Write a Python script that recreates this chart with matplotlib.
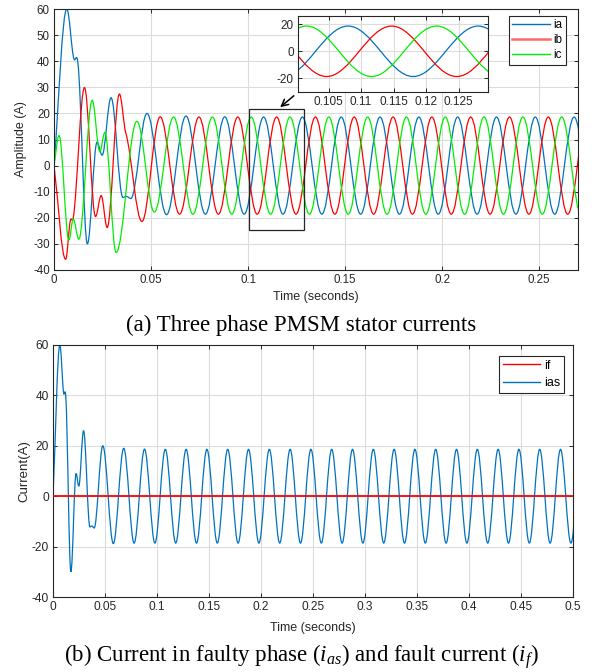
import numpy as np
import matplotlib
matplotlib.use('Agg')
import matplotlib.pyplot as plt
from matplotlib.path import Path
from matplotlib.patches import PathPatch, Rectangle, FancyArrowPatch
from matplotlib.lines import Line2D

plt.rcParams['axes.unicode_minus'] = False
plt.rcParams['mathtext.fontset'] = 'custom'
plt.rcParams['mathtext.rm'] = 'Liberation Serif'
plt.rcParams['mathtext.it'] = 'Liberation Serif:italic'

# turning points (time s, current A)
ia_t = [0.0, 0.0066, 0.0103, 0.0123, 0.0172, 0.0222, 0.0248, 0.0294, 0.0355, 0.0373, 0.0396, 0.0479,
        0.058, 0.068, 0.078, 0.088, 0.098, 0.108, 0.118, 0.128, 0.138, 0.148,
        0.158, 0.168, 0.178, 0.188, 0.198, 0.208, 0.218, 0.228, 0.238, 0.248,
        0.258, 0.268, 0.278, 0.288, 0.298, 0.308, 0.318, 0.328, 0.338, 0.348,
        0.358, 0.368, 0.378, 0.388, 0.398, 0.408, 0.418, 0.428, 0.438, 0.448,
        0.458, 0.468, 0.478, 0.488, 0.498, 0.508]
ia_v = [0.0, 60.0, 40.8, 39.5, -30.0, 9.0, 4.0, 26.0, -12.2, -11.8, -12.6, 20.0,
        -18.8, 19.0, -18.6, 18.7, -18.6, 18.6, -18.6, 18.6, -18.6, 18.6,
        -18.6, 18.6, -18.6, 18.6, -18.6, 18.6, -18.6, 18.6, -18.6, 18.6,
        -18.6, 18.6, -18.6, 18.6, -18.6, 18.6, -18.6, 18.6, -18.6, 18.6,
        -18.6, 18.6, -18.6, 18.6, -18.6, 18.6, -18.6, 18.6, -18.6, 18.6,
        -18.6, 18.6, -18.6, 18.6, -18.6, 18.6]

ib_t = [0.0, 0.006, 0.0085, 0.0099, 0.0157, 0.0214, 0.0243, 0.0274, 0.0337, 0.0370, 0.0453,
        0.0547, 0.0647, 0.0747, 0.0847, 0.0947, 0.1047, 0.1147, 0.1247, 0.1347, 0.1447,
        0.1547, 0.1647, 0.1747, 0.1847, 0.1947, 0.2047, 0.2147, 0.2247, 0.2347, 0.2447,
        0.2547, 0.2647, 0.2747, 0.2847]
ib_v = [0.0, -35.9, -20.8, -20.1, 29.9, -19.5, -11.5, -23.7, 27.4, 12.5, -21.4,
        18.7, -18.6, 18.6, -18.6, 18.6, -18.6, 18.6, -18.6, 18.6, -18.6,
        18.6, -18.6, 18.6, -18.6, 18.6, -18.6, 18.6, -18.6, 18.6, -18.6,
        18.6, -18.6, 18.6, -18.6]

ic_t = [0.0, 0.0026, 0.0077, 0.0099, 0.0128, 0.0197, 0.0236, 0.0262, 0.0320, 0.0427, 0.0517,
        0.0616, 0.0716, 0.0816, 0.0916, 0.1016, 0.1116, 0.1216, 0.1316, 0.1416, 0.1516,
        0.1616, 0.1716, 0.1816, 0.1916, 0.2016, 0.2116, 0.2216, 0.2316, 0.2416, 0.2516,
        0.2616, 0.2716, 0.2816]
ic_v = [0.0, 11.5, -28.5, -20.5, -28.2, 25.0, 5.3, 12.7, -33.3, 17.0, -17.8,
        18.6, -18.6, 18.6, -18.6, 18.6, -18.6, 18.6, -18.6, 18.6, -18.6,
        18.6, -18.6, 18.6, -18.6, 18.6, -18.6, 18.6, -18.6, 18.6, -18.6,
        18.6, -18.6, 18.6]

# faulty phase current is the same trace as ia, fault current stays at zero
ias_t = ia_t
ias_v = ia_v
if_t = [0.0, 0.5]
if_v = [0.0, 0.0]

top_xticks = [0, 0.05, 0.1, 0.15, 0.2, 0.25]
top_xlabels = ['0', '0.05', '0.1', '0.15', '0.2', '0.25']
top_yticks = [-40, -30, -20, -10, 0, 10, 20, 30, 40, 50, 60]
ins_xticks = [0.105, 0.11, 0.115, 0.12, 0.125]
ins_xlabels = ['0.105', '0.11', '0.115', '0.12', '0.125']
ins_yticks = [-20, 0, 20]
bot_xticks = [0, 0.05, 0.1, 0.15, 0.2, 0.25, 0.3, 0.35, 0.4, 0.45, 0.5]
bot_xlabels = ['0', '0.05', '0.1', '0.15', '0.2', '0.25', '0.3', '0.35', '0.4', '0.45', '0.5']
bot_yticks = [-40, -20, 0, 20, 40, 60]

BLUE = '#0072BD'
RED = '#FF0000'
GREEN = '#00EE00'
DARK = '#262626'
GRID = '#DCDCDC'


def curve(t, v, k=0.36):
    # smooth bezier path through the turning points, flat at peaks
    t = np.asarray(t, float)
    v = np.asarray(v, float)
    n = len(t)
    m = np.zeros(n)
    m[0] = (v[1] - v[0]) / (t[1] - t[0])
    for i in range(1, n - 1):
        if (v[i] - v[i-1]) * (v[i+1] - v[i]) > 0:
            m[i] = 0.6 * (v[i+1] - v[i-1]) / (t[i+1] - t[i-1])
    verts = [(t[0], v[0])]
    codes = [Path.MOVETO]
    for i in range(n - 1):
        dt = t[i+1] - t[i]
        verts += [(t[i] + k*dt, v[i] + k*dt*m[i]),
                  (t[i+1] - k*dt, v[i+1] - k*dt*m[i+1]),
                  (t[i+1], v[i+1])]
        codes += [Path.CURVE4] * 3
    return Path(verts, codes)


def draw(ax, t, v, color, lw=0.9):
    ax.add_patch(PathPatch(curve(t, v), fill=False, edgecolor=color, lw=lw))


def style(ax, fam, size):
    ax.grid(True, color=GRID, lw=0.8)
    ax.set_axisbelow(True)
    ax.tick_params(direction='in', length=3, width=0.7, top=True, right=True,
                   colors=DARK, labelsize=size, pad=3)
    for lab in ax.get_xticklabels() + ax.get_yticklabels():
        lab.set_family(fam)
    for s in ax.spines.values():
        s.set_color(DARK)
        s.set_linewidth(0.8)


fig = plt.figure(figsize=(6.02, 6.72), dpi=100)
sans = ['Liberation Sans', 'DejaVu Sans']
serif = ['Liberation Serif', 'DejaVu Serif']

# ---------- (a) three phase currents ----------
ax1 = fig.add_axes([54/602, 1-270/672, 524/602, 261/672])
for t, v, c in [(ia_t, ia_v, BLUE), (ib_t, ib_v, RED), (ic_t, ic_v, GREEN)]:
    draw(ax1, t, v, c)
ax1.set_xlim(0, 0.27)
ax1.set_ylim(-40, 60)
ax1.set_xticks(top_xticks, top_xlabels)
ax1.set_yticks(top_yticks)
style(ax1, sans, 8.3)
ax1.set_xlabel('Time (seconds)', family=sans, fontsize=9, color=DARK)
ax1.set_ylabel('Amplitude (A)', family=sans, fontsize=9, color=DARK)
ax1.xaxis.set_label_coords(0.5, -0.082)
ax1.yaxis.set_label_coords(-0.052, 0.5)

ax1.add_patch(Rectangle((0.1005, -24.7), 0.0283, 46.3, fill=False,
                        edgecolor=DARK, lw=0.9, zorder=5))

handles = [Line2D([], [], color=BLUE, lw=1.0),
           Line2D([], [], color='#FF6B6B', lw=1.8),
           Line2D([], [], color=GREEN, lw=1.0)]
leg = ax1.legend(handles, ['ia', 'ib', 'ic'], loc='upper right',
                 bbox_to_anchor=(566/602, 1-16/672), bbox_transform=fig.transFigure,
                 borderaxespad=0, fancybox=False, framealpha=1, edgecolor=DARK,
                 prop={'family': sans, 'size': 8.3}, handlelength=3.3,
                 handletextpad=0.3, borderpad=0.3, labelspacing=0.25)
leg.get_frame().set_linewidth(0.8)

axi = fig.add_axes([298/602, 1-92/672, 190/602, 76/672])
for t, v, c in [(ia_t, ia_v, BLUE), (ib_t, ib_v, RED), (ic_t, ic_v, GREEN)]:
    draw(axi, t, v, c)
axi.set_xlim(0.1003, 0.1295)
axi.set_ylim(-30, 26)
axi.set_xticks(ins_xticks, ins_xlabels)
axi.set_yticks(ins_yticks)
style(axi, sans, 8.5)

fig.add_artist(FancyArrowPatch(
    (296/602, 1-94/672), (278/602, 1-109/672), transform=fig.transFigure,
    arrowstyle='->', mutation_scale=12, lw=1.1, color='black'))

fig.text(0.5, 1-331.5/672, '(a) Three phase PMSM stator currents', ha='center',
         va='baseline', family=serif, fontsize=16.5)

# ---------- (b) faulty phase and fault current ----------
ax2 = fig.add_axes([53/602, 1-597/672, 520/602, 252/672])
ax2.plot(if_t, if_v, color=RED, lw=1.3, zorder=3)
draw(ax2, ias_t, ias_v, BLUE)
ax2.set_xlim(0, 0.5)
ax2.set_ylim(-40, 60)
ax2.set_xticks(bot_xticks, bot_xlabels)
ax2.set_yticks(bot_yticks)
style(ax2, sans, 8.6)
ax2.set_xlabel('Time (seconds)', family=sans, fontsize=9, color=DARK)
ax2.set_ylabel('Current(A)', family=sans, fontsize=9.5, color=DARK)
ax2.xaxis.set_label_coords(0.5, -0.1)
ax2.yaxis.set_label_coords(-0.043, 0.5)

handles2 = [Line2D([], [], color=RED, lw=1.0), Line2D([], [], color=BLUE, lw=1.0)]
leg2 = ax2.legend(handles2, ['if', 'ias'], loc='upper right',
                  bbox_to_anchor=(564/602, 1-356/672), bbox_transform=fig.transFigure,
                  borderaxespad=0, fancybox=False, framealpha=1, edgecolor=DARK,
                  prop={'family': sans, 'size': 9}, handlelength=3.0,
                  handletextpad=0.3, borderpad=0.3, labelspacing=0.45)
leg2.get_frame().set_linewidth(0.8)

fig.text(0.5, 1-661.5/672,
         r'(b) Current in faulty phase ($i_{as}$) and fault current ($i_f$)',
         ha='center', va='baseline', family=serif, fontsize=16.5)

fig.savefig('out.png', dpi=100)
